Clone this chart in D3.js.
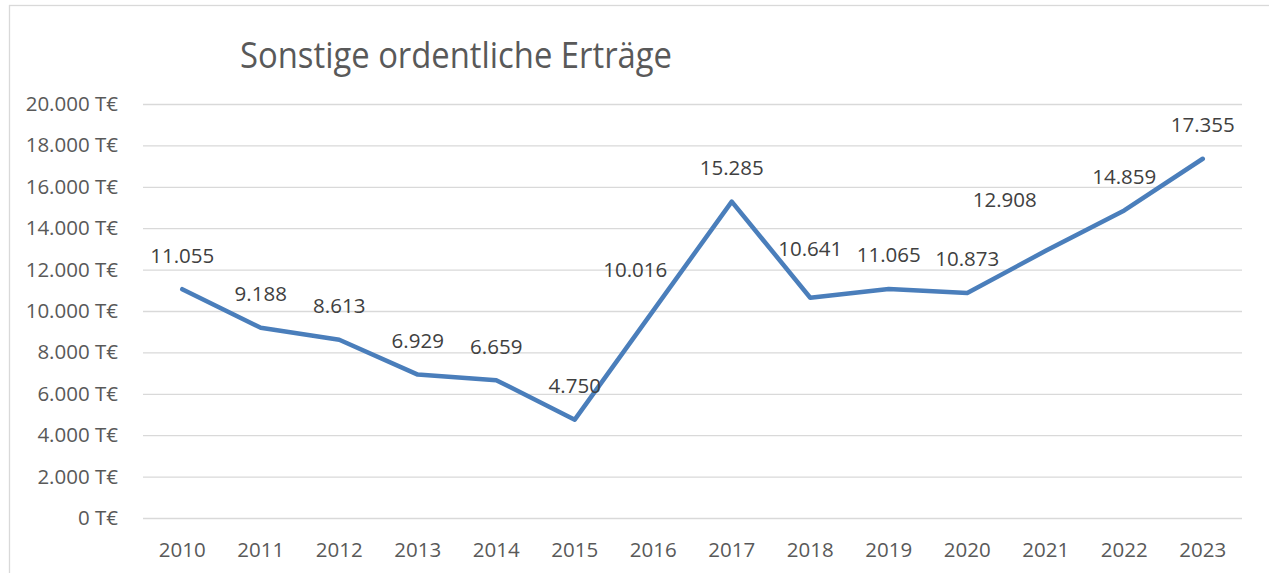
<!DOCTYPE html>
<html>
<head>
<meta charset="utf-8">
<script src="https://cdn.jsdelivr.net/npm/d3@7"></script>
<style>
  html, body { margin: 0; padding: 0; background: #fff; }
  svg { display: block; }
  text { font-family: "Open Sans", "Noto Sans", sans-serif; }
</style>
</head>
<body>
<svg id="chart" width="1269" height="573"></svg>
<script>
// ---- data ----
const years = ["2010","2011","2012","2013","2014","2015","2016","2017","2018","2019","2020","2021","2022","2023"];
const values = [11055, 9188, 8613, 6929, 6659, 4750, 10016, 15285, 10641, 11065, 10873, 12908, 14859, 17355];
const yTicks = [0, 2000, 4000, 6000, 8000, 10000, 12000, 14000, 16000, 18000, 20000];
const title = "Sonstige ordentliche Erträge";

// ---- layout ----
const W = 1269, H = 573;
const plot = { left: 143, right: 1242, top: 104, bottom: 518 };
// manual label nudges (as in the original chart), keyed by year
const labelNudge = { "2016": [-18, -7], "2018": [0, -15], "2021": [-41, -17] };

const de = d3.formatLocale({ decimal: ",", thousands: ".", grouping: [3], currency: ["", " €"] });
const fmt = de.format(",.0f");

const svg = d3.select("#chart");

// frame
svg.append("rect")
  .attr("x", 9.5).attr("y", 5.5)
  .attr("width", W + 20).attr("height", H + 20)
  .attr("fill", "none").attr("stroke", "#d9d9d9").attr("stroke-width", 1.3);

// title
svg.append("text")
  .attr("x", 240).attr("y", 68)
  .attr("font-size", 36)
  .attr("fill", "#595959")
  .attr("textLength", 432).attr("lengthAdjust", "spacingAndGlyphs")
  .text(title);

const x = d3.scaleBand().domain(years).range([plot.left, plot.right]).padding(0);
const y = d3.scaleLinear().domain([0, 20000]).range([plot.bottom, plot.top]);
const cx = d => x(d) + x.bandwidth() / 2;

// y axis + gridlines
const yAxis = d3.axisLeft(y)
  .tickValues(yTicks)
  .tickSizeInner(-(plot.right - plot.left))
  .tickSizeOuter(0)
  .tickPadding(25)
  .tickFormat(d => fmt(d) + " T€");

const gy = svg.append("g").attr("transform", `translate(${plot.left},0)`).call(yAxis);
gy.select(".domain").remove();
gy.selectAll(".tick line").attr("stroke", "#d9d9d9").attr("stroke-width", 1.3);
gy.selectAll(".tick text")
  .attr("fill", "#595959").attr("font-size", 20.5)
  .attr("font-family", "'Open Sans', sans-serif");

// x axis
const xAxis = d3.axisBottom(x).tickSize(0).tickPadding(24);
const gx = svg.append("g").attr("transform", `translate(0,${plot.bottom})`).call(xAxis);
gx.select(".domain").remove();
gx.selectAll(".tick text")
  .attr("fill", "#595959").attr("font-size", 20.5)
  .attr("font-family", "'Open Sans', sans-serif");

// line
const line = d3.line()
  .x((d, i) => cx(years[i]))
  .y(d => y(d));

svg.append("path")
  .datum(values)
  .attr("d", line)
  .attr("fill", "none")
  .attr("stroke", "#4a7ebb")
  .attr("stroke-width", 4.5)
  .attr("stroke-linejoin", "round")
  .attr("stroke-linecap", "round");

// data labels
svg.append("g").selectAll("text")
  .data(values)
  .join("text")
  .attr("x", (d, i) => cx(years[i]) + (labelNudge[years[i]] ? labelNudge[years[i]][0] : 0))
  .attr("y", (d, i) => y(d) - 26.5 + (labelNudge[years[i]] ? labelNudge[years[i]][1] : 0))
  .attr("text-anchor", "middle")
  .attr("font-size", 20.5)
  .attr("fill", "#404040")
  .text(d => fmt(d));
</script>
</body>
</html>
